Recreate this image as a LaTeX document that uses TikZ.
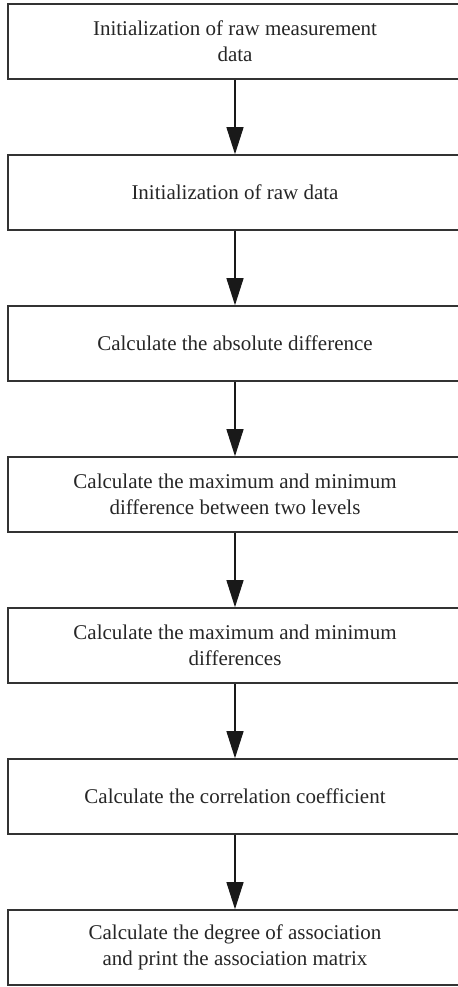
\documentclass[tikz,border=0pt]{standalone}
\usepackage{fontspec}
\setmainfont{Liberation Serif}
\usetikzlibrary{arrows.meta, positioning}

\begin{document}
\begin{tikzpicture}[
    node distance=37.2pt,
    box/.style={rectangle, draw=black!80, line width=0.8pt, minimum width=227pt, minimum height=37.5pt, align=center, inner sep=0pt, font=\fontsize{10.5}{13}\selectfont, text=black!85},
    arrow/.style={-{Triangle[length=13.5pt, width=8.5pt]}, line width=0.6pt, black!90}
]
\useasboundingbox (0,0) rectangle (229pt,-493.5pt);

\node[box] (meas) at (117.5pt,-20.75pt) {Initialization of raw measurement\\data};
\node[box, below=of meas] (raw) {Initialization of raw data};
\node[box, below=of raw] (absdiff) {Calculate the absolute difference};
\node[box, below=of absdiff] (levels) {Calculate the maximum and minimum\\difference between two levels};
\node[box, below=of levels] (maxmin) {Calculate the maximum and minimum\\differences};
\node[box, below=of maxmin] (corr) {Calculate the correlation coefficient};
\node[box, below=of corr] (assoc) {Calculate the degree of association\\and print the association matrix};

\draw[arrow] (meas) -- (raw);
\draw[arrow] (raw) -- (absdiff);
\draw[arrow] (absdiff) -- (levels);
\draw[arrow] (levels) -- (maxmin);
\draw[arrow] (maxmin) -- (corr);
\draw[arrow] (corr) -- (assoc);

\end{tikzpicture}
\end{document}
